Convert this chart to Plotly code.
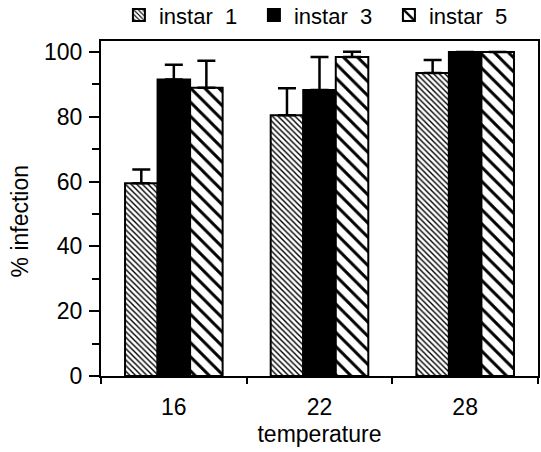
import plotly.graph_objects as go

temperatures = ["16", "22", "28"]
series_names = ["instar\u00a0\u00a01", "instar\u00a0\u00a03", "instar\u00a0\u00a05"]
instar1 = [59.5, 80.5, 93.5]
instar1_err = [4.2, 8.3, 4.0]
instar3 = [91.5, 88.3, 100.0]
instar3_err = [4.6, 10.2, 0.0]
instar5 = [89.0, 98.5, 100.0]
instar5_err = [8.3, 1.6, 0.0]

xpos = list(range(len(temperatures)))

fig = go.Figure()

def add(name, vals, errs, solid, shape, size, solidity):
    fig.add_trace(go.Bar(
        x=xpos, y=vals, name=name,
        marker=dict(
            color="black" if solid else "white",
            line=dict(color="black", width=2),
            pattern=dict(shape=shape, size=size, solidity=solidity,
                         fgcolor="black", bgcolor="white", fillmode="replace")
            if not solid else dict(shape=""),
        ),
        error_y=dict(type="data", array=errs, arrayminus=[0] * len(errs), symmetric=False,
                     color="black", thickness=2.5, width=9),
    ))

add(series_names[0], instar1, instar1_err, False, "\\", 4, 0.35)
add(series_names[1], instar3, instar3_err, True, "", 8, 1)
add(series_names[2], instar5, instar5_err, False, "\\", 10, 0.3)

fig.update_layout(
    width=541, height=452,
    margin=dict(l=101, r=3, t=41, b=76, autoexpand=False),
    plot_bgcolor="white", paper_bgcolor="white",
    barmode="group", bargap=0.33, bargroupgap=0,
    font=dict(family="Liberation Sans, Arial, sans-serif", color="black", size=20),
    legend=dict(orientation="h", x=0.041, xanchor="left", y=1.077, yanchor="middle",
                font=dict(size=22), itemwidth=30, entrywidth=90, entrywidthmode="pixels",
                tracegroupgap=0, bgcolor="rgba(0,0,0,0)"),
    xaxis=dict(
        range=[-0.5, 2.5], tickvals=xpos, ticktext=temperatures, ticks="",
        showline=True, linecolor="black", linewidth=2, mirror=True,
        showgrid=False, zeroline=False,
        tickfont=dict(size=23), ticklabelstandoff=9,
        minor=dict(tickvals=[-0.5, 0.5, 1.5, 2.5], ticks="outside", ticklen=6,
                   tickwidth=2, tickcolor="black"),
        title=dict(text="temperature", font=dict(size=23), standoff=7),
    ),
    yaxis=dict(
        range=[0, 103.4], tickvals=[0, 20, 40, 60, 80, 100],
        ticks="outside", ticklen=10, tickwidth=2, tickcolor="black",
        showline=True, linecolor="black", linewidth=2, mirror=True,
        showgrid=False, zeroline=False,
        tickfont=dict(size=23), ticklabelstandoff=2,
        minor=dict(tickvals=[10, 30, 50, 70, 90], ticks="outside", ticklen=7,
                   tickwidth=1.5, tickcolor="black"),
    ),
    annotations=[dict(
        text="% infection", textangle=-90, xref="paper", yref="paper",
        x=(20 - 101) / 437, y=(377 - 222) / 336, xanchor="center", yanchor="middle",
        showarrow=False, font=dict(size=23),
    )],
)

fig.write_html("out.html", config={"displayModeBar": False},
               post_script="document.body.style.margin='0';")
